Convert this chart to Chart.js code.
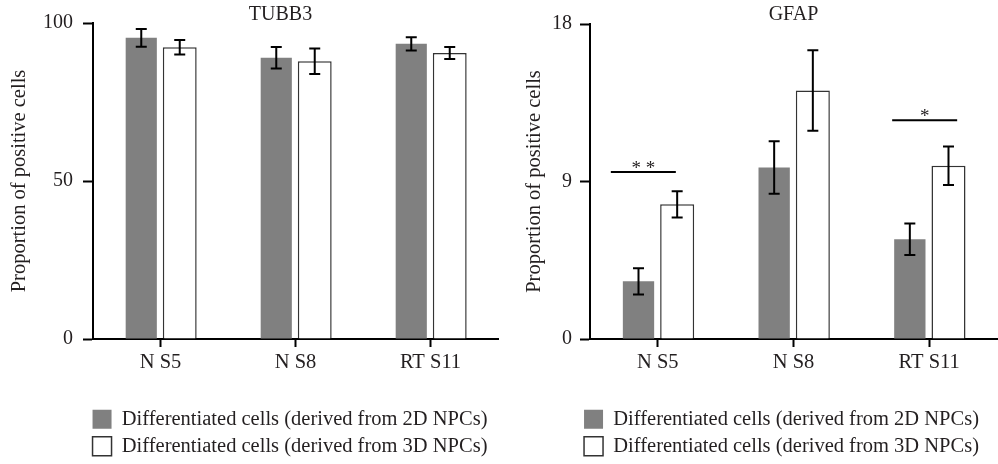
<!DOCTYPE html>
<html>
<head>
<meta charset="utf-8">
<script src="https://cdn.jsdelivr.net/npm/chart.js@4.4.0/dist/chart.umd.min.js"></script>
<style>
  html, body { margin: 0; padding: 0; background: #fff; }
  #wrap { position: relative; width: 998px; height: 464px; }
  .panel { position: absolute; top: 0; width: 499px; height: 464px; }
</style>
</head>
<body>
<div id="wrap">
  <div class="panel" style="left:0"><canvas id="tubb3Chart"></canvas></div>
  <div class="panel" style="left:499px"><canvas id="gfapChart"></canvas></div>
</div>
<script>
'use strict';

// data
var categories = ['N S5', 'N S8', 'RT S11'];
var seriesNames = ['Differentiated cells (derived from 2D NPCs)', 'Differentiated cells (derived from 3D NPCs)'];

var tubb3Mean2D = [95.3, 89.0, 93.4];
var tubb3Err2D = [2.8, 3.4, 2.1];
var tubb3Mean3D = [92.3, 87.9, 90.5];
var tubb3Err3D = [2.3, 4.0, 1.9];
var tubb3Ticks = [0, 50, 100];

var gfapMean2D = [3.3, 9.8, 5.7];
var gfapErr2D = [0.75, 1.5, 0.9];
var gfapMean3D = [7.7, 14.2, 9.9];
var gfapErr3D = [0.75, 2.3, 1.1];
var gfapTicks = [0, 9, 18];

// significance marks on GFAP: category index, height (axis units), label
var gfapSigCategory = [0, 2];
var gfapSigLevel = [9.55, 12.5];
var gfapSigLabel = ['* *', '*'];

var serif = '"Liberation Serif", "Times New Roman", serif';
var textColor = '#231f20';

// error bars drawn from each dataset's errorBars array
var errorBarPlugin = {
  id: 'errorBars',
  afterDatasetsDraw: function(chart) {
    var ctx = chart.ctx;
    var yScale = chart.scales.y;
    ctx.save();
    ctx.strokeStyle = '#000';
    ctx.lineWidth = 2;
    chart.data.datasets.forEach(function(ds, i) {
      var meta = chart.getDatasetMeta(i);
      meta.data.forEach(function(bar, j) {
        var v = ds.data[j], e = ds.errorBars[j];
        var top = yScale.getPixelForValue(v + e);
        var bot = yScale.getPixelForValue(v - e);
        var x = bar.x, cap = 5.5;
        ctx.beginPath();
        ctx.moveTo(x, top); ctx.lineTo(x, bot);
        ctx.moveTo(x - cap, top); ctx.lineTo(x + cap, top);
        ctx.moveTo(x - cap, bot); ctx.lineTo(x + cap, bot);
        ctx.stroke();
      });
    });
    ctx.restore();
  }
};

// significance bars + stars
var sigPlugin = {
  id: 'sigMarks',
  afterDatasetsDraw: function(chart, args, opts) {
    if (!opts.categories) return;
    var ctx = chart.ctx;
    var xs = chart.scales.x, ys = chart.scales.y;
    ctx.save();
    ctx.strokeStyle = '#000';
    ctx.fillStyle = textColor;
    ctx.lineWidth = 2;
    ctx.font = '19px ' + serif;
    ctx.textAlign = 'center';
    ctx.textBaseline = 'alphabetic';
    opts.categories.forEach(function(c, k) {
      var cx = xs.getPixelForValue(c) + opts.offsets[k];
      var y = ys.getPixelForValue(opts.levels[k]);
      ctx.beginPath();
      ctx.moveTo(cx - 32.5, y);
      ctx.lineTo(cx + 32.5, y);
      ctx.stroke();
      ctx.fillText(opts.labels[k], cx, y + 2);
    });
    ctx.restore();
  }
};

// panel title over the plot area, and legend shift
var panelPlugin = {
  id: 'panel',
  afterUpdate: function(chart, args, opts) {
    var lg = chart.legend;
    if (lg) {
      lg.left += opts.legendShift; lg.right += opts.legendShift;
      lg.top += 2.5; lg.bottom += 2.5;
    }
  },
  afterDraw: function(chart, args, opts) {
    var ctx = chart.ctx, area = chart.chartArea;
    ctx.save();
    ctx.fillStyle = textColor;
    ctx.font = '20px ' + serif;
    ctx.textAlign = 'center';
    ctx.textBaseline = 'middle';
    ctx.fillText(opts.title, (area.left + area.right) / 2 + opts.titleShift, 15);
    ctx.restore();
  }
};

function makeChart(id, o) {
  var ctx = document.getElementById(id);
  return new Chart(ctx, {
    type: 'bar',
    data: {
      labels: categories,
      datasets: [{
        label: seriesNames[0],
        data: o.mean2D,
        errorBars: o.err2D,
        backgroundColor: '#808080',
        borderWidth: 0,
        categoryPercentage: 0.57,
        barPercentage: 0.81
      }, {
        label: seriesNames[1],
        data: o.mean3D,
        errorBars: o.err3D,
        backgroundColor: '#ffffff',
        borderColor: '#333333',
        borderWidth: 1.5,
        categoryPercentage: 0.57,
        barPercentage: 0.88
      }]
    },
    options: {
      responsive: false,
      animation: false,
      maintainAspectRatio: false,
      layout: { padding: { left: 0, right: 1, top: o.top, bottom: 0 } },
      plugins: {
        title: { display: false },
        tooltip: { enabled: false },
        legend: {
          position: 'bottom',
          labels: {
            boxWidth: 19, boxHeight: 19, padding: 6.5,
            color: textColor,
            font: { family: serif, size: 20.5 }
          }
        },
        sigMarks: o.sig || {},
        panel: { title: o.title, titleShift: o.titleShift, legendShift: o.legendShift }
      },
      scales: {
        x: {
          afterFit: function(s) { s.height = 61; },
          border: { display: true, color: '#000', width: 2 },
          grid: { offset: false, drawOnChartArea: false, drawTicks: true, tickLength: 8, tickWidth: 2, tickColor: '#000' },
          ticks: { color: textColor, font: { family: serif, size: 20.5 }, padding: 3 }
        },
        y: {
          min: 0, max: o.max,
          afterBuildTicks: function(s) { s.ticks = o.ticks.map(function(v) { return { value: v }; }); },
          afterFit: function(s) { s.width = o.axisLeft; },
          border: { display: true, color: '#000', width: 2 },
          grid: { drawOnChartArea: false, drawTicks: true, tickLength: 10, tickWidth: 2, tickColor: '#000' },
          ticks: { color: textColor, font: { family: serif, size: 20 }, padding: o.tickPad },
          title: {
            display: true, text: 'Proportion of positive cells', color: textColor,
            font: { family: serif, size: 20.5 }, padding: { top: o.titlePad, bottom: 0 }
          }
        }
      }
    },
    plugins: [errorBarPlugin, sigPlugin, panelPlugin]
  });
}

var sizeCanvas = function(id) {
  var c = document.getElementById(id);
  c.width = 499; c.height = 464;
  c.style.width = '499px'; c.style.height = '464px';
};
sizeCanvas('tubb3Chart');
sizeCanvas('gfapChart');

makeChart('tubb3Chart', {
  title: 'TUBB3', titleShift: -15, legendShift: 41,
  mean2D: tubb3Mean2D, err2D: tubb3Err2D, mean3D: tubb3Mean3D, err3D: tubb3Err3D,
  max: 100, ticks: tubb3Ticks, top: 23, axisLeft: 93, tickPad: 10, titlePad: 7.5
});

makeChart('gfapChart', {
  title: 'GFAP', titleShift: 0, legendShift: 33.5,
  mean2D: gfapMean2D, err2D: gfapErr2D, mean3D: gfapMean3D, err3D: gfapErr3D,
  max: 18, ticks: gfapTicks, top: 24, axisLeft: 91, tickPad: 8, titlePad: 23.5,
  sig: { categories: gfapSigCategory, levels: gfapSigLevel, labels: gfapSigLabel, offsets: [-14.5, -4.5] }
});
</script>
</body>
</html>
